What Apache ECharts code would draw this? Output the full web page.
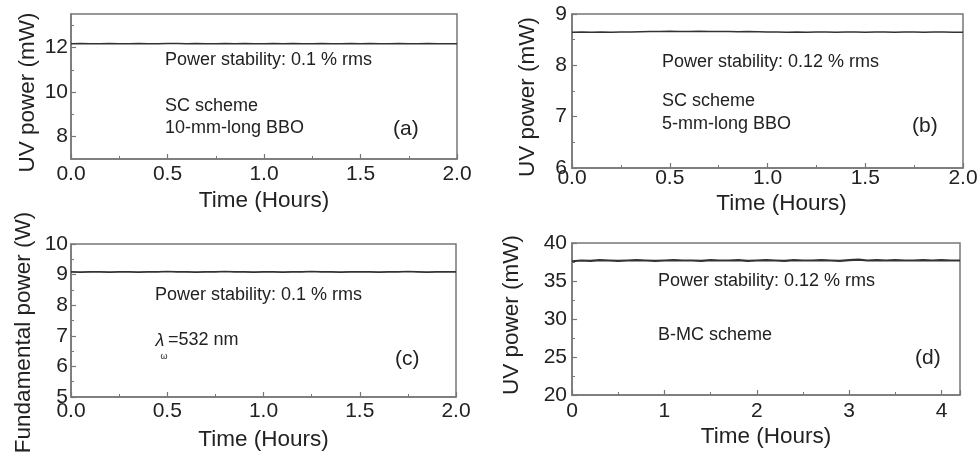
<!DOCTYPE html>
<html><head><meta charset="utf-8">
<script src="https://cdn.jsdelivr.net/npm/echarts@6/dist/echarts.min.js"></script>
<style>html,body{margin:0;padding:0;background:#fff}#c{width:980px;height:457px}</style>
</head><body><div id="c"></div>
<script>
// ---- data ----
const timeABC = [0.00,0.05,0.10,0.15,0.20,0.25,0.30,0.35,0.40,0.45,0.50,0.55,0.60,0.65,0.70,0.75,0.80,0.85,0.90,0.95,1.00,
  1.05,1.10,1.15,1.20,1.25,1.30,1.35,1.40,1.45,1.50,1.55,1.60,1.65,1.70,1.75,1.80,1.85,1.90,1.95,2.00];
const powerA = [12.17,12.18,12.17,12.17,12.18,12.17,12.17,12.18,12.17,12.17,12.18,12.18,12.17,12.18,12.17,12.17,12.18,12.17,12.18,12.17,12.17,
  12.18,12.17,12.18,12.17,12.17,12.18,12.17,12.17,12.18,12.17,12.18,12.17,12.17,12.18,12.17,12.17,12.18,12.17,12.17,12.17];
const powerB = [8.645,8.65,8.645,8.65,8.645,8.65,8.65,8.655,8.66,8.66,8.665,8.66,8.66,8.665,8.66,8.66,8.66,8.655,8.66,8.655,8.65,
  8.65,8.645,8.65,8.645,8.65,8.65,8.645,8.65,8.65,8.645,8.65,8.65,8.645,8.65,8.65,8.645,8.65,8.65,8.645,8.645];
const powerC = [9.09,9.08,9.09,9.09,9.08,9.09,9.09,9.08,9.09,9.09,9.10,9.09,9.09,9.08,9.09,9.09,9.10,9.09,9.09,9.08,9.09,
  9.09,9.08,9.09,9.09,9.10,9.09,9.09,9.08,9.09,9.09,9.09,9.08,9.09,9.09,9.10,9.09,9.08,9.09,9.09,9.09];
const timeD = [0.0,0.1,0.2,0.3,0.4,0.5,0.6,0.7,0.8,0.9,1.0,1.1,1.2,1.3,1.4,1.5,1.6,1.7,1.8,1.9,2.0,
  2.1,2.2,2.3,2.4,2.5,2.6,2.7,2.8,2.9,3.0,3.1,3.2,3.3,3.4,3.5,3.6,3.7,3.8,3.9,4.0,4.1,4.2];
const powerD = [37.6,37.7,37.65,37.75,37.7,37.65,37.7,37.75,37.7,37.65,37.7,37.75,37.7,37.7,37.65,37.75,37.7,37.7,37.75,37.65,37.7,
  37.75,37.7,37.65,37.75,37.7,37.7,37.75,37.7,37.65,37.75,37.8,37.7,37.75,37.7,37.75,37.7,37.7,37.75,37.7,37.75,37.7,37.7];
const yTicksA = [8, 10, 12];
const yMinorA = [9, 11, 13];
const xTitle = 'Time (Hours)';
const yTitles = ['UV power (mW)', 'UV power (mW)', 'Fundamental power (W)', 'UV power (mW)'];
const notes = {
  a: ['Power stability: 0.1 % rms', 'SC scheme', '10-mm-long BBO', '(a)'],
  b: ['Power stability: 0.12 % rms', 'SC scheme', '5-mm-long BBO', '(b)'],
  c: ['Power stability: 0.1 % rms', 'λ', 'ω', '=532 nm', '(c)'],
  d: ['Power stability: 0.12 % rms', 'B-MC scheme', '(d)']
};

// ---- styling ----
const FONT = '"Liberation Sans", Arial, sans-serif';
const FRAME = '#777';
const TXT = '#222';
const NAME_SIZE = 22.5;
const zip = (xs, ys) => xs.map((x, i) => [x, ys[i]]);

const grids = [
  {left: 71, top: 14, width: 386, height: 145},
  {left: 572, top: 14, width: 391, height: 154},
  {left: 71, top: 244, width: 385, height: 153},
  {left: 572, top: 243, width: 388, height: 152}
].map(g => Object.assign({show: true, borderColor: FRAME, borderWidth: 1.5, backgroundColor: 'transparent',
  containLabel: false, outerBoundsMode: 'none'}, g));

const nts = (pad) => ({fontSize: NAME_SIZE, color: TXT, fontFamily: FONT, padding: pad || 0});

function xAx(i, o) {
  return Object.assign({
    type: 'value', gridIndex: i, min: 0, max: 2, interval: 0.5,
    axisLine: {show: true, lineStyle: {color: FRAME, width: 1.5}},
    axisTick: {inside: true, length: 5, lineStyle: {color: FRAME, width: 1.2}},
    minorTick: {show: true, splitNumber: 2, length: 3, lineStyle: {color: FRAME, width: 1}},
    splitLine: {show: false},
    axisLabel: {fontSize: 21, color: TXT, fontFamily: FONT, margin: 5, formatter: v => v.toFixed(1)},
    name: xTitle, nameLocation: 'middle', nameGap: 30,
    nameTextStyle: nts()
  }, o);
}
function yAx(i, o) {
  return Object.assign({
    type: 'value', gridIndex: i,
    axisLine: {show: true, lineStyle: {color: FRAME, width: 1.5}},
    axisTick: {inside: true, length: 5, lineStyle: {color: FRAME, width: 1.2}},
    minorTick: {show: true, splitNumber: 2, length: 3, lineStyle: {color: FRAME, width: 1}},
    splitLine: {show: false},
    axisLabel: {fontSize: 21, color: TXT, fontFamily: FONT, margin: 3},
    name: yTitles[i], nameLocation: 'middle', nameGap: 32, nameRotate: 90,
    nameTextStyle: nts()
  }, o);
}

const xAxis = [
  xAx(0, {}),
  xAx(1, {axisLabel: {fontSize: 21, color: TXT, fontFamily: FONT, margin: 0, formatter: v => v.toFixed(1)},
          nameGap: 24, nameTextStyle: nts([0, 0, 0, 28])}),
  xAx(2, {axisLabel: {fontSize: 21, color: TXT, fontFamily: FONT, margin: 4, formatter: v => v.toFixed(1)}, nameGap: 31}),
  xAx(3, {max: 4.2, interval: 1,
          axisLabel: {fontSize: 21, color: TXT, fontFamily: FONT, margin: 6, formatter: v => (Math.abs(v - Math.round(v)) < 1e-9 ? String(Math.round(v)) : '')},
          nameGap: 30})
];

const yAxis = [
  yAx(0, {min: 7, max: 13.5,
          axisLabel: {fontSize: 21, color: TXT, fontFamily: FONT, margin: 3, customValues: yTicksA},
          axisTick: {inside: true, length: 5, customValues: yTicksA, lineStyle: {color: FRAME, width: 1.2}},
          minorTick: {show: false},
          nameTextStyle: nts([0, 12, 0, 0])}),
  yAx(1, {min: 6, max: 9, interval: 1, nameGap: 33,
          axisLabel: {fontSize: 21, color: TXT, fontFamily: FONT, margin: 5},
          nameTextStyle: nts([0, 12, 0, 0])}),
  yAx(2, {min: 5, max: 10, interval: 1, nameGap: 36,
          nameTextStyle: nts([0, 24, 0, 0])}),
  yAx(3, {min: 20, max: 40, interval: 5, nameGap: 49,
          axisLabel: {fontSize: 21, color: TXT, fontFamily: FONT, margin: 5},
          nameTextStyle: nts([0, 0, 0, 8])}),
  // minor ticks for panel (a)
  {type: 'value', gridIndex: 0, min: 7, max: 13.5, position: 'left',
   axisLine: {show: false}, axisLabel: {show: false}, splitLine: {show: false},
   axisTick: {inside: true, length: 3, customValues: yMinorA, lineStyle: {color: FRAME, width: 1}}}
];

const lineS = (xi, yi, data, w) => ({
  type: 'line', xAxisIndex: xi, yAxisIndex: yi, data, showSymbol: false, silent: true,
  lineStyle: {color: '#333', width: w}, animation: false
});
const series = [
  lineS(0, 0, zip(timeABC, powerA), 1.5),
  lineS(1, 1, zip(timeABC, powerB), 1.6),
  lineS(2, 2, zip(timeABC, powerC), 1.6),
  lineS(3, 3, zip(timeD, powerD), 2.2)
];

const T = (x, y, text, size, extra) => ({
  type: 'text', x, y, silent: true,
  style: Object.assign({text, fill: TXT, font: size + 'px ' + FONT, verticalAlign: 'middle', align: 'left'}, extra || {})
});
const graphic = [
  T(165, 60, notes.a[0], 18), T(165, 106, notes.a[1], 18), T(165, 128.5, notes.a[2], 18), T(393, 129, notes.a[3], 21),
  T(662, 62, notes.b[0], 18), T(662, 101, notes.b[1], 18), T(662, 124, notes.b[2], 18), T(912, 126, notes.b[3], 21),
  T(155, 295, notes.c[0], 18),
  T(155.5, 341, notes.c[1], 18, {font: 'italic 18px ' + FONT}),
  T(160.5, 357, notes.c[2], 9),
  T(168, 340.5, notes.c[3], 18),
  T(395, 359, notes.c[4], 21),
  T(658, 281, notes.d[0], 18), T(658, 335.5, notes.d[1], 18), T(915, 358, notes.d[2], 21)
];

const chart = echarts.init(document.getElementById('c'), null, {renderer: 'canvas'});
chart.setOption({animation: false, backgroundColor: '#fff', grid: grids, xAxis, yAxis, series, graphic});
</script>
</body></html>
